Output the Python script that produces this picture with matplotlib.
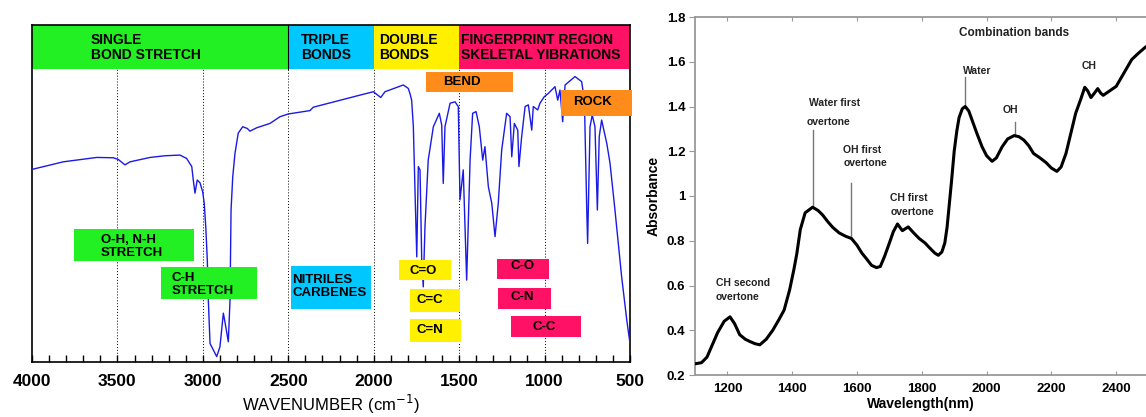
import matplotlib
matplotlib.use('Agg')
from matplotlib import pyplot as plt
from matplotlib.patches import Rectangle
from matplotlib.ticker import MultipleLocator

plt.rcParams['font.family'] = ['Liberation Sans', 'DejaVu Sans']

# IR spectrum (wavenumber cm-1, transmittance %)
ir_wn = [3996, 3817, 3621, 3524, 3495, 3456, 3426, 3309, 3222, 3134, 3095, 3065, 3056, 3046, 3033,
         3017, 3001, 2992, 2983, 2974, 2968, 2958, 2939, 2919, 2900, 2880, 2866, 2851, 2841, 2835,
         2825, 2812, 2793, 2767, 2740, 2724, 2685, 2607, 2548, 2500, 2373, 2354, 2080, 2002, 1959,
         1934, 1827, 1798, 1788, 1778, 1768, 1758, 1748, 1739, 1729, 1719, 1710, 1700, 1681, 1651,
         1616, 1602, 1593, 1583, 1553, 1524, 1505, 1495, 1476, 1456, 1436, 1421, 1401, 1382, 1362,
         1349, 1329, 1309, 1290, 1271, 1251, 1222, 1202, 1192, 1177, 1157, 1150, 1134, 1114, 1095,
         1075, 1066, 1040, 1027, 1002, 978, 939, 923, 910, 894, 880, 822, 783, 767, 753,
         748, 734, 721, 705, 691, 680, 666, 636, 617, 588, 549, 519, 500]
ir_t = [57.2, 59.4, 60.7, 60.6, 60.1, 58.5, 59.4, 60.7, 61.2, 61.4, 60.4, 58.0, 54.0, 50.1, 54.0,
        53.2, 50.5, 47.1, 40.1, 30.3, 18.4, 5.5, 3.6, 1.6, 4.5, 14.5, 10.5, 6.0, 18.4, 45.1,
        55.0, 61.9, 67.9, 69.8, 69.3, 68.5, 69.5, 70.8, 72.8, 73.6, 74.6, 75.6, 79.2, 80.2, 78.5,
        80.2, 82.2, 81.2, 79.7, 77.7, 69.8, 50.1, 31.2, 58.0, 57.0, 30.3, 22.3, 40.1, 59.9, 69.8,
        73.8, 70.3, 53.0, 69.8, 76.8, 77.2, 75.8, 48.1, 57.0, 24.3, 59.9, 73.8, 74.3, 69.8, 59.9,
        63.9, 52.0, 47.1, 37.2, 47.1, 62.9, 73.8, 72.8, 60.9, 70.8, 68.8, 58.0, 66.9, 75.8, 76.3,
        68.8, 75.8, 74.8, 76.8, 78.7, 79.7, 81.7, 77.7, 80.7, 71.3, 82.2, 84.7, 83.2, 77.7, 45.1,
        35.2, 69.8, 73.3, 69.8, 45.1, 66.9, 71.8, 64.9, 59.0, 45.1, 25.3, 12.5, 5.5]

# top region bands: (from, to, colour, text, text x)
band_from = [4000, 2500, 2000, 1500]
band_to = [2500, 2000, 1500, 500]
band_col = ['#22f022', '#00c8ff', '#fff000', '#ff1166']
band_txt = ['SINGLE\nBOND STRETCH', 'TRIPLE\nBONDS', 'DOUBLE\nBONDS', 'FINGERPRINT REGION\nSKELETAL YIBRATIONS']
band_tx = [3655, 2424, 1968, 1488]

# labelled boxes: x0, x1, y0, y1, colour, text, text x, text y, alignment
box_x0 = [1694, 904, 3754, 3245, 2484, 1852, 1788, 1788, 1278, 1273, 1196]
box_x1 = [1185, 488, 3052, 2683, 2016, 1548, 1495, 1489, 974, 962, 787]
box_y0 = [80.1, 73.0, 30.0, 18.7, 15.7, 24.3, 14.8, 5.9, 24.6, 15.7, 7.4]
box_y1 = [86.1, 80.7, 39.5, 28.2, 28.5, 30.3, 21.7, 12.8, 30.6, 22.0, 13.6]
box_col = ['#ff8c1a', '#ff8c1a', '#22f022', '#22f022', '#00c8ff', '#fff000', '#fff000', '#fff000',
           '#ff1166', '#ff1166', '#ff1166']
box_txt = ['BEND', 'ROCK', 'O-H, N-H\nSTRETCH', 'C-H\nSTRETCH', 'NITRILES\nCARBENES', 'C=O', 'C=C', 'C=N',
           'C-O', 'C-N', 'C-C']
box_tx = [1483, 722, 3596, 3181, 2478, 1712, 1670, 1670, 1126, 1132, 1003]
box_ty = [83.2, 77.2, 34.4, 23.1, 22.3, 27.0, 18.4, 9.5, 28.5, 19.3, 10.4]
box_ha = ['center', 'center', 'left', 'left', 'left', 'center', 'center', 'center', 'center', 'center', 'center']

# NIR spectrum
nir_wl = [1100, 1120, 1137, 1155, 1170, 1190, 1208, 1222, 1238, 1255, 1269, 1285, 1300, 1320, 1340,
          1360, 1375, 1392, 1405, 1414, 1425, 1440, 1463, 1480, 1494, 1510, 1525, 1545, 1565, 1583,
          1600, 1615, 1629, 1645, 1660, 1672, 1685, 1700, 1712, 1725, 1740, 1758, 1775, 1792, 1810,
          1823, 1840, 1851, 1862, 1871, 1878, 1884, 1892, 1900, 1908, 1915, 1925, 1934, 1945, 1955,
          1970, 1986, 2000, 2017, 2030, 2048, 2065, 2085, 2100, 2115, 2130, 2145, 2165, 2183, 2200,
          2217, 2230, 2245, 2260, 2275, 2290, 2303, 2312, 2322, 2333, 2343, 2352, 2360, 2380, 2400,
          2420, 2448, 2470, 2490]
nir_abs = [0.25, 0.255, 0.28, 0.34, 0.39, 0.44, 0.46, 0.43, 0.38, 0.36, 0.35, 0.34, 0.335, 0.36, 0.40,
           0.45, 0.49, 0.58, 0.67, 0.74, 0.85, 0.925, 0.95, 0.935, 0.915, 0.885, 0.86, 0.835, 0.82, 0.81,
           0.78, 0.745, 0.72, 0.69, 0.68, 0.685, 0.73, 0.79, 0.84, 0.875, 0.845, 0.862, 0.835, 0.81, 0.79,
           0.77, 0.745, 0.735, 0.75, 0.79, 0.86, 0.95, 1.07, 1.20, 1.29, 1.35, 1.39, 1.40, 1.38, 1.34,
           1.28, 1.22, 1.18, 1.155, 1.17, 1.22, 1.255, 1.27, 1.265, 1.25, 1.225, 1.19, 1.17, 1.15, 1.125,
           1.11, 1.13, 1.19, 1.28, 1.37, 1.43, 1.486, 1.47, 1.44, 1.46, 1.48, 1.46, 1.45, 1.47, 1.49,
           1.54, 1.61, 1.64, 1.665]

# NIR annotations: text, x, y, alignment
ann_txt = ['Combination bands', 'Water', 'OH', 'CH', 'Water first', 'overtone', 'OH first', 'overtone',
           'CH first', 'overtone', 'CH second', 'overtone']
ann_x = [2085, 1971, 2075, 2315, 1531, 1512, 1558, 1558, 1703, 1703, 1165, 1165]
ann_y = [1.727, 1.557, 1.383, 1.579, 1.414, 1.33, 1.204, 1.146, 0.99, 0.928, 0.611, 0.548]
ann_ha = ['center', 'center', 'center', 'center', 'center', 'center', 'left', 'left', 'left', 'left',
          'left', 'left']
# leader lines: x, y top, y bottom
lead_x = [1934, 2088, 1463, 1583]
lead_y0 = [1.53, 1.33, 1.294, 1.057]
lead_y1 = [1.40, 1.271, 0.95, 0.81]

fig = plt.figure(figsize=(11.46, 4.17), dpi=100)

# ---------- left: IR chart ----------
ax = fig.add_axes([32 / 1146, 55 / 417, 598 / 1146, 337 / 417])
ax.set_xlim(4000, 500)
ax.set_ylim(0, 100)
band_y = 86.9

for x0, x1, c, t, tx in zip(band_from, band_to, band_col, band_txt, band_tx):
    ax.add_patch(Rectangle((min(x0, x1), band_y), abs(x1 - x0), 100 - band_y, color=c, lw=0, zorder=1))
    ax.text(tx, 93.3, t, ha='left', va='center', fontsize=10, fontweight='bold', linespacing=1.1, zorder=5)
ax.plot([2500, 2500], [band_y, 100], color='k', lw=0.8, zorder=2)

for wn in [3500, 3000, 2500, 2000, 1500, 1000]:
    ax.plot([wn, wn], [0, band_y], color='k', lw=0.7, ls=(0, (1, 2)), zorder=1)

ax.plot(ir_wn, ir_t, color='#1a1ae6', lw=1.0, zorder=3)

for x0, x1, y0, y1, c, t, tx, ty, ha in zip(box_x0, box_x1, box_y0, box_y1, box_col, box_txt,
                                           box_tx, box_ty, box_ha):
    ax.add_patch(Rectangle((min(x0, x1), y0), abs(x1 - x0), y1 - y0, color=c, lw=0, zorder=4,
                           clip_on=False))
    ax.text(tx, ty, t, ha=ha, va='center', fontsize=9.5, fontweight='bold', linespacing=1.1, zorder=5)

ax.xaxis.set_major_locator(MultipleLocator(500))
ax.xaxis.set_minor_locator(MultipleLocator(100))
ax.tick_params(axis='x', which='both', direction='in', length=5, width=1, pad=9, labelsize=12.5)
for lab in ax.get_xticklabels():
    lab.set_fontweight('bold')
ax.set_yticks([])
for s in ax.spines.values():
    s.set_linewidth(1.2)
fig.text(331 / 1146, 1 / 417, 'WAVENUMBER (cm$^{-1}$)', ha='center', va='bottom', fontsize=12)

# ---------- right: NIR chart ----------
ax2 = fig.add_axes([695 / 1146, 42 / 417, 451 / 1146, 358 / 417])
ax2.plot(nir_wl, nir_abs, color='k', lw=2.2, zorder=3)
ax2.set_xlim(1100, 2492)
ax2.set_ylim(0.2, 1.8)
ax2.set_xticks([1200, 1400, 1600, 1800, 2000, 2200, 2400])
ax2.set_yticks([0.2, 0.4, 0.6, 0.8, 1.0, 1.2, 1.4, 1.6, 1.8])
ax2.set_yticklabels(['0.2', '0.4', '0.6', '0.8', '1', '1.2', '1.4', '1.6', '1.8'])
ax2.tick_params(axis='x', direction='in', length=3, color='#999999', top=True, pad=6, labelsize=9.5)
ax2.tick_params(axis='y', direction='out', length=4, color='#999999', pad=3, labelsize=9.5)
for lab in ax2.get_xticklabels() + ax2.get_yticklabels():
    lab.set_fontweight('bold')
ax2.spines['right'].set_visible(False)
for k in ['left', 'top', 'bottom']:
    ax2.spines[k].set_color('#999999')
    ax2.spines[k].set_linewidth(1.3)
ax2.set_xlabel('Wavelength(nm)', fontsize=10, fontweight='bold', labelpad=1)
ax2.set_ylabel('Absorbance', fontsize=10, fontweight='bold', labelpad=4)

for t, x, y, ha in zip(ann_txt, ann_x, ann_y, ann_ha):
    fs = 8.5 if t == 'Combination bands' else 7.5
    ax2.text(x, y, t, ha=ha, va='center', fontsize=fs, fontweight='bold', color='#222222')
for x, y0, y1 in zip(lead_x, lead_y0, lead_y1):
    ax2.plot([x, x], [y0, y1], color='#777777', lw=1.0, zorder=2)

plt.savefig('out.png', dpi=100)
